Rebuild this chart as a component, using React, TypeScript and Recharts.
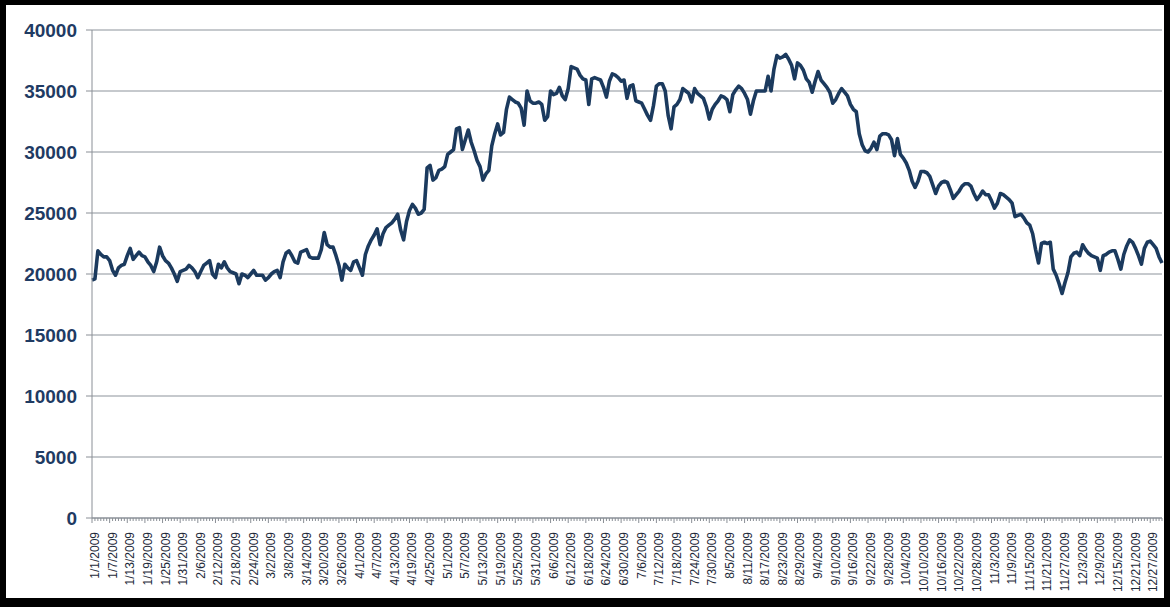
import React from "react";
import { LineChart, Line, XAxis, YAxis, CartesianGrid } from "recharts";

// daily values, 2009
const jan = [19500, 19600, 21900, 21600, 21400, 21400, 21100, 20300, 19900, 20500, 20700, 20800, 21500, 22100, 21200, 21500, 21800, 21500, 21400, 21000, 20700, 20200, 21000, 22200, 21500, 21100, 20900, 20500, 20000, 19400, 20200];
const feb = [20300, 20400, 20700, 20500, 20200, 19700, 20200, 20700, 20900, 21100, 20000, 19700, 20800, 20500, 21000, 20500, 20200, 20100, 20000, 19200, 20000, 19900, 19700, 20000, 20300, 19900, 19900, 19900];
const mar = [19500, 19700, 20000, 20200, 20300, 19700, 21000, 21700, 21900, 21500, 21000, 20900, 21800, 21900, 22000, 21400, 21300, 21300, 21300, 22000, 23400, 22400, 22200, 22200, 21500, 20700, 19500, 20800, 20500, 20300, 21000];
const apr = [21100, 20500, 19900, 21600, 22300, 22800, 23200, 23700, 22400, 23300, 23800, 24000, 24200, 24500, 24900, 23600, 22800, 24300, 25200, 25700, 25400, 24900, 25000, 25300, 28700, 28900, 27700, 27900, 28500, 28600];
const may = [28800, 29800, 30000, 30200, 31900, 32000, 30200, 31000, 31800, 30800, 30100, 29300, 28800, 27700, 28200, 28500, 30500, 31500, 32300, 31400, 31600, 33500, 34500, 34300, 34100, 34000, 33600, 32200, 35000, 34200, 34000];
const jun = [34000, 34100, 33900, 32600, 32900, 35000, 34700, 34800, 35300, 34600, 34300, 35200, 37000, 36900, 36800, 36300, 36000, 35900, 33900, 36000, 36100, 36000, 35900, 35300, 34500, 35800, 36400, 36300, 36100, 35800];
const jul = [35900, 34400, 35400, 35500, 34200, 34100, 34000, 33500, 33000, 32600, 33800, 35400, 35600, 35600, 35000, 33000, 31900, 33700, 33900, 34300, 35200, 35000, 34800, 34100, 35200, 34800, 34600, 34400, 33700, 32700, 33500];
const aug = [33900, 34200, 34600, 34500, 34300, 33300, 34700, 35100, 35400, 35200, 34800, 34300, 33100, 34200, 35000, 35000, 35000, 35000, 36200, 35000, 36800, 37900, 37700, 37800, 38000, 37600, 37100, 36000, 37300, 37100, 36700];
const sep = [36000, 35700, 34900, 35800, 36600, 35900, 35600, 35300, 34900, 34000, 34300, 34800, 35200, 34900, 34600, 33900, 33500, 33300, 31500, 30600, 30100, 30000, 30300, 30800, 30200, 31300, 31500, 31500, 31400, 31000];
const oct = [29700, 31100, 29800, 29500, 29100, 28500, 27600, 27100, 27600, 28400, 28400, 28300, 28000, 27300, 26600, 27200, 27500, 27600, 27500, 26900, 26200, 26500, 26800, 27200, 27400, 27400, 27200, 26600, 26100, 26400, 26800];
const nov = [26500, 26500, 26000, 25400, 25800, 26600, 26500, 26300, 26100, 25800, 24700, 24800, 24900, 24600, 24200, 24000, 23300, 22000, 20900, 22500, 22600, 22500, 22600, 20400, 19900, 19200, 18400, 19300, 20100, 21400];
const dec = [21700, 21800, 21500, 22400, 22000, 21700, 21500, 21400, 21300, 20300, 21500, 21600, 21800, 21900, 21900, 21200, 20400, 21600, 22300, 22800, 22600, 22100, 21500, 20800, 22100, 22600, 22700, 22400, 22100, 21400, 20900];

const months = [jan, feb, mar, apr, may, jun, jul, aug, sep, oct, nov, dec];
const yTicks = [0, 5000, 10000, 15000, 20000, 25000, 30000, 35000, 40000];

const data: { date: string; value: number }[] = [];
months.forEach((vals, m) => {
  vals.forEach((v, i) => {
    data.push({ date: `${m + 1}/${i + 1}/2009`, value: v });
  });
});

const DateTick = (props: any) => {
  const { x, y, payload, index } = props;
  const major = index % 6 === 0;
  return (
    <g>
      <line x1={x} y1={y} x2={x} y2={y + (major ? 5 : 3)} stroke="#8a8f96" strokeWidth={1} />
      {major && (
        <text
          x={x + 3}
          y={y + 14}
          transform={`rotate(-90, ${x + 3}, ${y + 14})`}
          textAnchor="end"
          dominantBaseline="central"
          fontSize={12}
          fontFamily="'Liberation Sans', Arial, sans-serif"
          fill="#1e2a3a"
        >
          {payload.value}
        </text>
      )}
    </g>
  );
};

export default function App() {
  return (
    <div style={{ position: "fixed", left: 0, top: 0, width: 1170, height: 607, background: "#fff" }}>
      <LineChart
        width={1170}
        height={607}
        data={data}
        margin={{ top: 30, right: 8, left: 0, bottom: 9 }}
      >
        <CartesianGrid vertical={false} stroke="#8c939b" strokeWidth={1} />
        <XAxis
          dataKey="date"
          interval={0}
          height={80}
          tickLine={false}
          tickSize={0}
          tickMargin={0}
          tick={<DateTick />}
          stroke="#8a8f96"
        />
        <YAxis
          width={92}
          domain={[0, 40000]}
          ticks={yTicks}
          interval={0}
          tickSize={6}
          tickMargin={9}
          stroke="#8a8f96"
          tick={{ fontSize: 19, fontWeight: "bold", fill: "#1f3b63", fontFamily: "'Liberation Sans', Arial, sans-serif" }}
        />
        <Line
          type="linear"
          dataKey="value"
          stroke="#1b3a5e"
          strokeWidth={3.6}
          strokeLinejoin="round"
          dot={false}
          isAnimationActive={false}
        />
      </LineChart>
      <div
        style={{
          position: "absolute",
          left: 0,
          top: 0,
          width: 1170,
          height: 607,
          boxSizing: "border-box",
          borderStyle: "solid",
          borderColor: "#000",
          borderWidth: "5px 6px 9px 6px",
          pointerEvents: "none",
        }}
      />
    </div>
  );
}
